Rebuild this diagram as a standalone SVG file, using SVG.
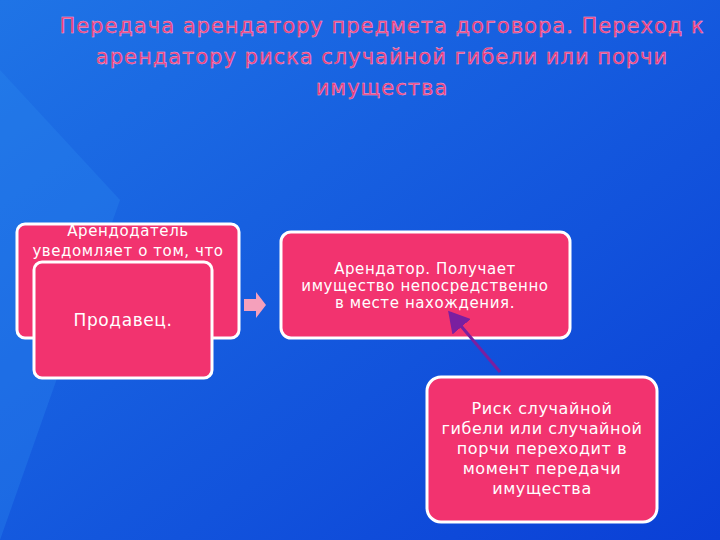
<svg xmlns="http://www.w3.org/2000/svg" width="720" height="540" viewBox="0 0 720 540">
<defs>
<linearGradient id="bg" x1="0" y1="0" x2="1" y2="1">
<stop offset="0" stop-color="#1f74e6"/><stop offset="1" stop-color="#0a3fd6"/>
</linearGradient>
<marker id="ah" markerWidth="8" markerHeight="8" refX="6" refY="4" orient="auto" markerUnits="strokeWidth"><path d="M0,0 L7,4 L0,8 Z" fill="#7a1fa0"/></marker>
<style>
.box{fill:#f2336f;stroke:#ffffff;stroke-width:3}
.t{font-family:"DejaVu Sans",sans-serif;fill:#ffffff;text-anchor:middle;font-size:15px;letter-spacing:0.6px}
.title{font-family:"DejaVu Sans",sans-serif;fill:#e8337a;stroke:#ffb0c8;stroke-width:0.4;text-anchor:middle;font-size:21px;letter-spacing:1px}
</style>
</defs>
<rect width="720" height="540" fill="url(#bg)"/>
<polygon points="0,70 120,200 0,540" fill="#2a86ee" opacity="0.35"/>
<text class="title" x="382" y="33">Передача арендатору предмета договора. Переход к</text>
<text class="title" x="382" y="64">арендатору риска случайной гибели или порчи</text>
<text class="title" x="382" y="95">имущества</text>
<g id="node1"><rect class="box" x="17" y="224" width="222" height="114" rx="8"/>
<text class="t" x="128" y="236">Арендодатель</text><text class="t" x="128" y="256">уведомляет о том, что</text></g>
<g id="node2"><rect class="box" x="34" y="262" width="178" height="116" rx="8"/>
<text class="t" x="123" y="326" style="font-size:17px">Продавец.</text></g>
<g id="node3"><rect class="box" x="281" y="232" width="289" height="106" rx="10"/>
<text class="t" x="425" y="274">Арендатор. Получает</text><text class="t" x="425" y="291">имущество непосредственно</text><text class="t" x="425" y="308">в месте нахождения.</text></g>
<g id="node4"><rect class="box" x="427" y="377" width="230" height="145" rx="14"/>
<g style="font-size:16px"><text class="t" x="542" y="414" style="font-size:16px">Риск случайной</text><text class="t" x="542" y="434" style="font-size:16px">гибели или случайной</text><text class="t" x="542" y="454" style="font-size:16px">порчи переходит в</text><text class="t" x="542" y="474" style="font-size:16px">момент передачи</text><text class="t" x="542" y="494" style="font-size:16px">имущества</text></g></g>
<g id="connectors">
<polygon points="244,299 256,299 256,292 266,305 256,318 256,311 244,311" fill="#f5a0bb"/>
<line x1="500" y1="372" x2="450" y2="313" stroke="#7a1fa0" stroke-width="3" marker-end="url(#ah)"/>
</g>
</svg>
